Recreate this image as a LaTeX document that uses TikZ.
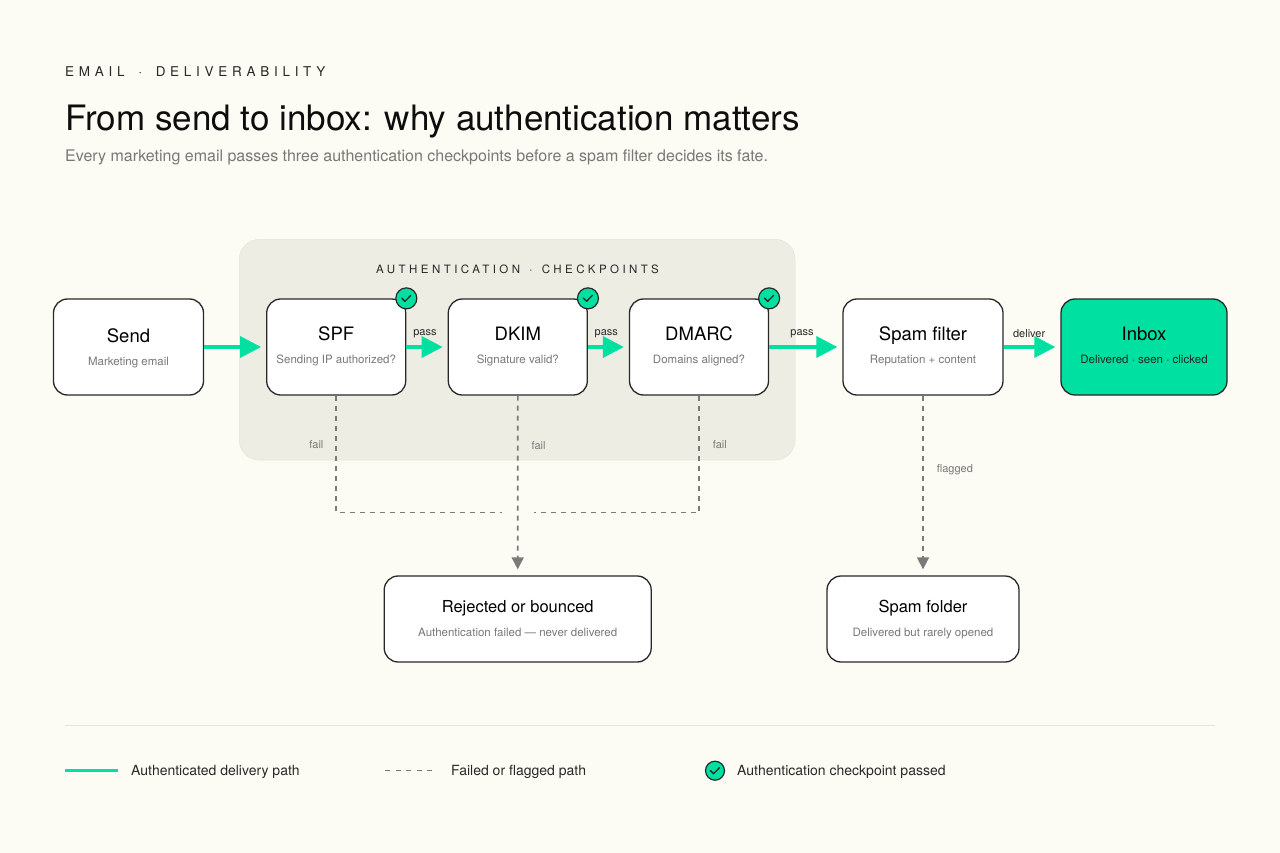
\documentclass[tikz,border=0pt]{standalone}
\usepackage{fontspec}
\setmainfont{TeX Gyre Heros}
\usepackage{tikz}
\usepackage{xcolor}
\usetikzlibrary{positioning, arrows.meta}
\definecolor{dlgreen}{RGB}{0, 224, 160}
\definecolor{dlink}{RGB}{40, 40, 40}
\definecolor{dlgray}{RGB}{120, 120, 120}
\definecolor{dldash}{RGB}{122, 122, 122}
\definecolor{dlpaper}{RGB}{252, 252, 244}
\definecolor{dlpanel}{RGB}{237, 237, 228}
\definecolor{dlrule}{RGB}{229, 229, 221}
\tikzset{
    flownode/.style={rectangle, rounded corners=14pt, draw=dlink, line width=1.3pt, fill=white, minimum height=96pt, inner sep=0pt},
    inboxnode/.style={flownode, fill=dlgreen},
    endnode/.style={flownode, minimum height=86pt},
    panelnode/.style={rectangle, rounded corners=20pt, fill=dlpanel, draw=dlrule, line width=0.6pt, inner sep=0pt},
    checknode/.style={circle, draw=dlink, line width=1.2pt, fill=dlgreen, minimum size=21pt, inner sep=0pt,
        path picture={\draw[dlink, line width=1.3pt, line cap=round, line join=round]
            ([shift={(-4.6pt,0.2pt)}]path picture bounding box.center) -- ++(3.2pt,-3.2pt) -- ++(5.8pt,6pt);}},
    headtext/.style={anchor=base, font=\fontsize{18.5}{20}\selectfont, text=black},
    subtext/.style={anchor=base, font=\fontsize{11.5}{13}\selectfont, text=dlgray},
    edgetext/.style={font=\fontsize{11}{13}\selectfont, text=dlink, inner sep=0pt},
    failtext/.style={edgetext, text=dlgray},
    legendtext/.style={anchor=base west, inner sep=0pt, font=\fontsize{14}{16}\selectfont, text=dlink},
    passpath/.style={draw=dlgreen, line width=3.5pt, -{Triangle[length=21pt,width=21pt]}, shorten >=5pt},
    failpath/.style={draw=dldash, line width=1.6pt, dash pattern=on 5pt off 5pt},
    failarrow/.style={failpath, -{Triangle[length=12pt,width=12pt]}, shorten >=6pt}
}
\begin{document}
\begin{tikzpicture}[x=1pt, y=-1pt]
    \fill[dlpaper] (0,0) rectangle (1280,853);
    \useasboundingbox (0,0) rectangle (1280,853);

    % header
    \node[anchor=base west, inner sep=0pt, text=dlink, font=\fontsize{13.5}{15}\selectfont\addfontfeature{LetterSpace=35}] (eyebrow) at (65,77) {EMAIL\hspace{13.7pt}·\hspace{13.7pt}DELIVERABILITY};
    \node[anchor=base west, inner sep=0pt, text=black!95, font=\fontsize{35}{40}\selectfont] (title) at (65,130.5) {From send to inbox: why authentication matters};
    \node[anchor=base west, inner sep=0pt, text=dlgray, font=\fontsize{16}{18}\selectfont] (subtitle) at (65,162) {Every marketing email passes three authentication checkpoints before a spam filter decides its fate.};

    % checkpoint group
    \node[panelnode, minimum width=555.7pt, minimum height=220.7pt] (authpanel) at (517.2,349.7) {};
    \node[anchor=base, inner sep=0pt, text=dlink, font=\fontsize{11.5}{13}\selectfont\addfontfeature{LetterSpace=30}] (authtitle) at (517.5,273) {AUTHENTICATION\hspace{9.2pt}·\hspace{9.2pt}CHECKPOINTS};

    % main row
    \node[flownode, minimum width=150pt] (send) at (128.5,347) {};
    \node[flownode, minimum width=139pt] (spf) at (336.2,347) {};
    \node[flownode, minimum width=139pt] (dkim) at (517.8,347) {};
    \node[flownode, minimum width=139pt] (dmarc) at (699,347) {};
    \node[flownode, minimum width=160pt] (spam) at (923,347) {};
    \node[inboxnode, minimum width=166pt] (inbox) at (1144,347) {};

    \node[headtext] (sendhead) at ([yshift=5pt]send.center) {Send};
    \node[subtext] (sendsub) at ([yshift=-18pt]send.center) {Marketing email};
    \node[headtext] (spfhead) at ([yshift=6.3pt]spf.center) {SPF};
    \node[subtext] (spfsub) at ([yshift=-16.3pt]spf.center) {Sending IP authorized?};
    \node[headtext] (dkimhead) at ([yshift=6.3pt]dkim.center) {DKIM};
    \node[subtext] (dkimsub) at ([yshift=-16.3pt]dkim.center) {Signature valid?};
    \node[headtext] (dmarchead) at ([yshift=6.3pt]dmarc.center) {DMARC};
    \node[subtext] (dmarcsub) at ([yshift=-16.3pt]dmarc.center) {Domains aligned?};
    \node[headtext] (spamhead) at ([yshift=6.3pt]spam.center) {Spam filter};
    \node[subtext] (spamsub) at ([yshift=-16.3pt]spam.center) {Reputation + content};
    \node[headtext] (inboxhead) at ([yshift=7pt]inbox.center) {Inbox};
    \node[subtext, text=dlink!90!black] (inboxsub) at ([yshift=-16.3pt]inbox.center) {Delivered · seen · clicked};

    \node[checknode] (spfcheck) at (spf.north east) {};
    \node[checknode] (dkimcheck) at (dkim.north east) {};
    \node[checknode] (dmarccheck) at (dmarc.north east) {};

    % outcomes
    \node[endnode, minimum width=267pt] (reject) at (517.7,619) {};
    \node[endnode, minimum width=192pt] (folder) at (923,619) {};
    \node[headtext, font=\fontsize{16.5}{18}\selectfont] (rejecthead) at ([yshift=6.3pt]reject.center) {Rejected or bounced};
    \node[subtext] (rejectsub) at ([yshift=-17.7pt]reject.center) {Authentication failed — never delivered};
    \node[headtext, font=\fontsize{16.5}{18}\selectfont] (folderhead) at ([yshift=6.3pt]folder.center) {Spam folder};
    \node[subtext] (foldersub) at ([yshift=-17.7pt]folder.center) {Delivered but rarely opened};

    % delivery path
    \draw[passpath] (send.east) -- (spf.west);
    \draw[passpath] (spf.east) -- node[edgetext, pos=0.45, yshift=13pt] (pass1) {pass} (dkim.west);
    \draw[passpath] (dkim.east) -- node[edgetext, pos=0.45, yshift=13pt] (pass2) {pass} (dmarc.west);
    \draw[passpath] (dmarc.east) -- node[edgetext, pos=0.45, yshift=13pt] (pass3) {pass} (spam.west);
    \draw[passpath] (spam.east) -- node[edgetext, pos=0.45, yshift=13pt] (deliver) {deliver} (inbox.west);

    % failed path
    \coordinate (joinleft) at (501.7,512.3);
    \coordinate (joinright) at (534,512.3);
    \draw[failpath] (spf.south) |- node[failtext, pos=0.21, left=12pt] (spffail) {fail} (joinleft);
    \draw[failpath] (dmarc.south) |- node[failtext, pos=0.21, right=13pt] (dmarcfail) {fail} (joinright);
    \draw[failarrow] (dkim.south) -- node[failtext, pos=0.28, right=13pt] (dkimfail) {fail} (reject.north);
    \draw[failarrow] (spam.south) -- node[failtext, pos=0.41, right=13pt] (flagged) {flagged} (folder.north);

    % legend
    \draw[dlrule, line width=1pt] (65,725.7) -- (1215,725.7);
    \coordinate (legpassa) at (65,770.7);
    \coordinate (legpassb) at (118,770.7);
    \coordinate (legfaila) at (385,770.7);
    \coordinate (legfailb) at (433,770.7);
    \draw[draw=dlgreen, line width=2.6pt] (legpassa) -- (legpassb);
    \draw[failpath, line width=1.4pt, dash pattern=on 5pt off 5.5pt] (legfaila) -- (legfailb);
    \node[checknode, minimum size=19pt] (legcheck) at (715,770.7) {};
    \node[legendtext] (legpass) at (131,775.5) {Authenticated delivery path};
    \node[legendtext] (legfail) at (451,775.5) {Failed or flagged path};
    \node[legendtext] (legchecktext) at (737,775.5) {Authentication checkpoint passed};
\end{tikzpicture}
\end{document}
